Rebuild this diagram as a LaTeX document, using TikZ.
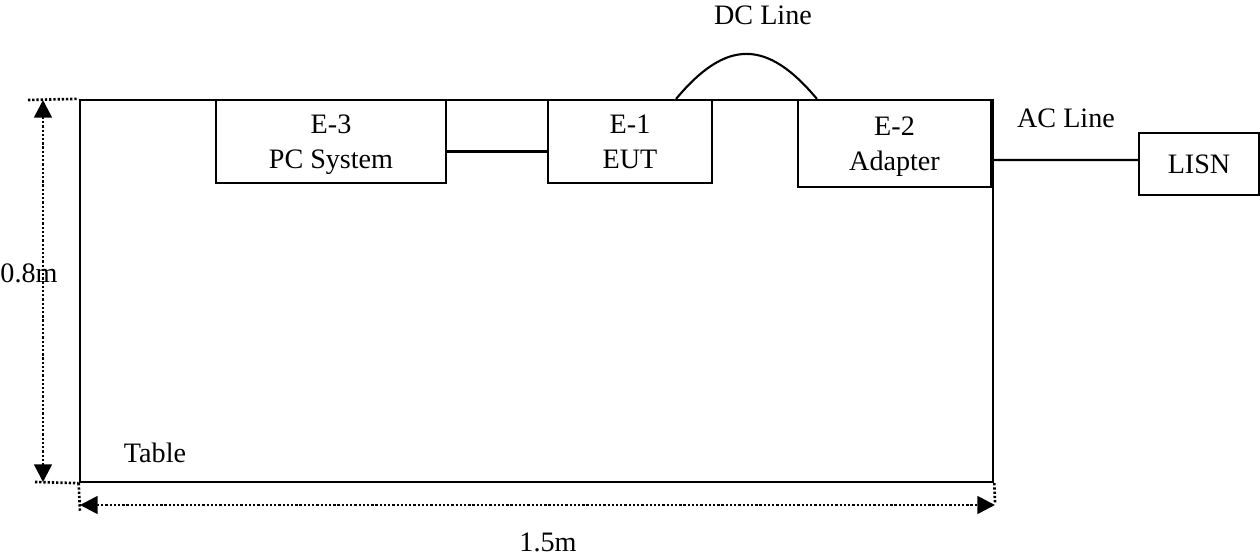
\documentclass[tikz,border=0pt]{standalone}
\usepackage{fontspec}
\setmainfont{Liberation Serif}
\usepackage{tikz}
\usetikzlibrary{arrows.meta}
\tikzset{box/.style={rectangle,draw,line width=0.6pt,align=center,inner sep=0pt,text depth=0pt},
         dim/.style={line width=0.75pt,dash pattern=on 0.65pt off 0.55pt},
         lbl/.style={inner sep=0pt}}

\begin{document}
\begin{tikzpicture}[x=0.01cm,y=-0.01cm,line width=0.6pt,font=\fontsize{8}{10}\selectfont,
    >={Triangle[length=5pt,width=5pt]}]
    \useasboundingbox (0,0) rectangle (1260,558);
    \node[box,minimum width=9.13cm,minimum height=3.82cm] (table) at (536.5,291) {};
    \node[box,minimum width=2.30cm,minimum height=0.83cm] (pc) at (331,141.5) {E-3\\PC System};
    \node[box,minimum width=1.64cm,minimum height=0.83cm] (eut) at (630,141.5) {E-1\\EUT};
    \node[box,minimum width=1.93cm,minimum height=0.87cm] (adapter) at (894.5,143.5) {E-2\\Adapter};
    \node[box,minimum width=1.20cm,minimum height=0.62cm] (lisn) at (1199,164) {LISN};

    \node[lbl] (tablelbl) at (155,453) {Table};
    \node[lbl] (dcl) at (763,15) {DC Line};
    \node[lbl] (acl) at (1066,118) {AC Line};
    \node[lbl] (hgt) at (29,273) {0.8m};
    \node[lbl] (wid) at (548,542) {1.5m};

    \coordinate (tl) at (28,100);
    \coordinate (bl) at (35,482);
    \coordinate (lx) at (80,512);
    \coordinate (rx) at (995,503);
    \coordinate (atop) at (43,100);
    \coordinate (abot) at (43,482);
    \coordinate (aleft) at (80,505);
    \coordinate (aright) at (995,505);

    \draw [] ([yshift=-0.1cm]pc.east) to [] ([yshift=-0.1cm]eut.west);
    \draw [] ([xshift=-0.37cm]eut.north east) .. controls +(50,-60) and +(-50,-60) .. ([xshift=0.2cm]adapter.north west);
    \draw [] ([yshift=-0.165cm,xshift=0.02cm]adapter.east) to [] ([yshift=0.04cm]lisn.west);

    \draw [dim] (tl) to [] (table.north west);
    \draw [dim] (bl) to [] (table.south west);
    \draw [dim] (table.south west) to [] (lx);
    \draw [dim] (table.south east) to [] (rx);
    \draw [dim,<->] (atop) to [] (abot);
    \draw [dim,<->] (aleft) to [] (aright);
\end{tikzpicture}
\end{document}
